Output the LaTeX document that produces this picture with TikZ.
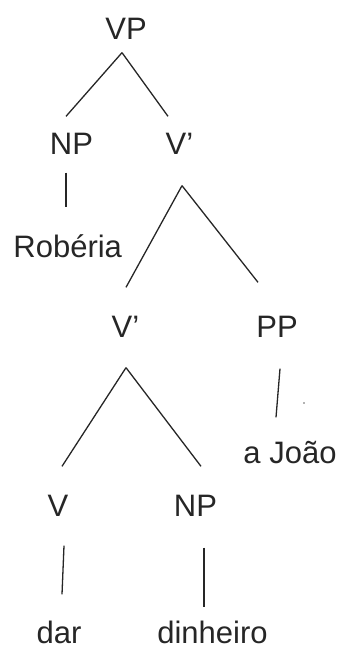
\documentclass[tikz,border=0pt]{standalone}
\usepackage{fontspec}
\setmainfont{Liberation Sans}
\usepackage{tikz}
\usetikzlibrary{calc}

\begin{document}
\begin{tikzpicture}[x=1pt,y=-1pt,line width=1.3pt,color=black!85,
  tree node/.style={font=\fontsize{31}{31}\selectfont,inner sep=0pt,
    text height=22pt,text depth=0pt,anchor=base}]

  \useasboundingbox (0,0) rectangle (344,650);

  % labels, placed on their baselines
  \node[tree node] (vp) at (126,40) {VP};
  \node[tree node] (np1) at (71.5,154) {NP};
  \node[tree node] (vbar1) at (179.5,154) {V’};
  \node[tree node] (robe) at (67.7,257) {Robéria};
  \node[tree node] (vbar2) at (125.5,337) {V’};
  \node[tree node] (pp) at (277,337) {PP};
  \node[tree node] (joao) at (290,463) {a João};
  \node[tree node] (v) at (58,516) {V};
  \node[tree node] (np2) at (195.5,516) {NP};
  \node[tree node] (dar) at (59,643) {dar};
  \node[tree node] (din) at (212.5,643) {dinheiro};

  % branches
  \draw ($(vp.south)+(-4,12)$) -- ($(np1.north)+(-5.5,-15)$);
  \draw ($(vp.south)+(-4,12)$) -- ($(vbar1.north)+(-11.5,-15)$);
  \draw ($(np1.south)+(-5.5,18)$) -- ($(robe.north)+(-1.7,-27)$);
  \draw ($(vbar1.south)+(2.5,31)$) -- ($(vbar2.north)+(0.5,-27)$);
  \draw ($(vbar1.south)+(2.5,31)$) -- ($(pp.north)+(-19,-32)$);
  \draw ($(pp.south)+(3,31)$) -- ($(joao.north)+(-14,-23)$);
  \draw ($(vbar2.south)+(0.5,30)$) -- ($(v.north)+(4,-27)$);
  \draw ($(vbar2.south)+(0.5,30)$) -- ($(np2.north)+(5.5,-27)$);
  \draw ($(v.south)+(6,29)$) -- ($(dar.north)+(3,-26)$);
  \draw ($(np2.south)+(8.5,31)$) -- ($(din.north)+(-8.5,-13)$);

  % stray dot beside the PP branch
  \fill[black!60] (304,403) circle (0.9);

\end{tikzpicture}
\end{document}
